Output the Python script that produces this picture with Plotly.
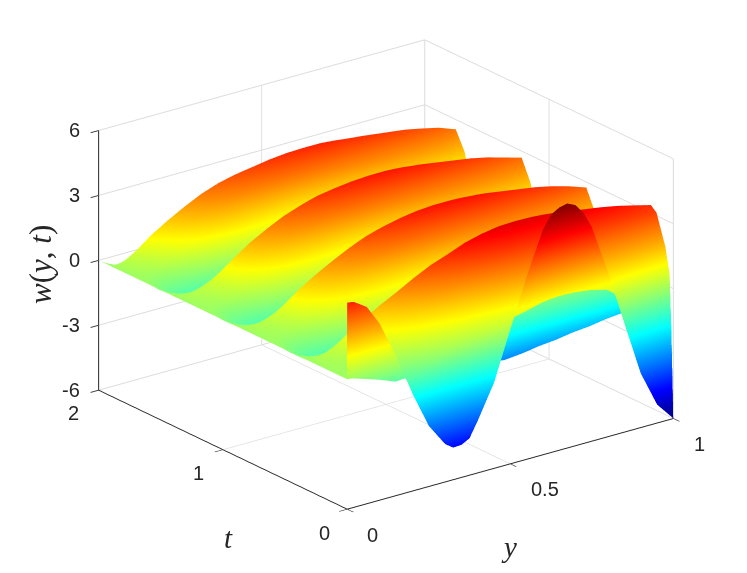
import numpy as np
import plotly.graph_objects as go

y_values = [0, .02, .06, .1, .15, .2, .25, .3, .325, .35, .375, .4, .45, .5, .55, .6, .625, .65, .675, .7, .725, .75, .8, .85, .9, .95, 1]
t_at_y0 = [0, .003, .03, .08, .18, .28, .34, .40, .46, .52, .595, .665, .735, .805, .925, 1.045, 1.12, 1.19, 1.26, 1.33, 1.45, 1.57, 1.645, 1.715, 1.785, 1.855, 1.93, 2]
t_at_y1 = [0, .016, .03, .064, .135, .18, .24, .30, .35, .40, .49, .56, .63, .70, .82, .925, 1.01, 1.08, 1.15, 1.22, 1.34, 1.45, 1.54, 1.61, 1.68, 1.75, 1.87, 2]

w_rows = [
 [3.55,3.5,3.1,2.15,.45,-1.5,-3.2,-4.25,-4.52,-4.5,-4.3,-3.6,-2.05,.2,2.45,4.4,5.0,5.22,5.3,5.12,4.65,3.9,1.6,-1.0,-3.5,-5.15,-6],
 [0,-.05,-.25,-.45,-.75,-.7,-.3,0,.1,.2,.28,.35,.5,.65,.8,1.0,1.05,1.08,1.07,1.05,1.0,.95,.75,.2,-.5,-1.2,-1.9],
 [0,-.05,-.2,-.35,-.45,-.2,.1,.3,.38,.45,.5,.55,.65,.8,1.0,1.2,1.25,1.3,1.3,1.3,1.28,1.25,1.15,1.0,.85,.7,.6],
 [0,-.02,-.1,-.1,.1,.4,.65,.85,.95,1.05,1.15,1.25,1.45,1.7,1.9,2.05,2.1,2.15,2.15,2.15,2.12,2.1,2.05,2.0,1.95,1.85,1.76],
 [0,.05,.15,.35,.8,1.2,1.6,1.9,2.1,2.3,2.45,2.6,2.9,3.15,3.35,3.4,3.43,3.45,3.45,3.45,3.42,3.4,3.35,3.3,3.25,3.2,3.14],
 [0,.15,.38,.75,1.4,1.88,2.3,2.75,2.95,3.15,3.3,3.45,3.78,4.0,4.15,4.2,4.2,4.2,4.18,4.15,4.1,4.05,3.95,3.85,3.72,3.55,3.37],
 [0,.02,.05,.4,.98,1.33,1.64,1.95,2.08,2.22,2.32,2.42,2.62,2.71,2.76,2.77,2.76,2.75,2.74,2.73,2.7,2.68,2.62,2.57,2.49,2.38,2.26],
 [0,-.1,-.3,-.15,.2,.32,.42,.52,.56,.6,.62,.65,.7,.7,.68,.62,.6,.58,.59,.6,.61,.62,.62,.65,.63,.62,.58],
 [0,-.2,-.6,-.65,-.65,-.75,-.87,-.99,-1.06,-1.13,-1.18,-1.24,-1.35,-1.44,-1.55,-1.66,-1.7,-1.75,-1.71,-1.67,-1.62,-1.57,-1.5,-1.4,-1.34,-1.25,-1.2],
 [0,-.25,-.7,-1.0,-1.25,-1.45,-1.65,-1.85,-1.98,-2.1,-2.2,-2.3,-2.5,-2.65,-2.8,-2.95,-3.0,-3.05,-3.0,-2.95,-2.88,-2.8,-2.7,-2.55,-2.45,-2.3,-2.2],
 [0,-.1,-.35,-.4,-.2,.05,.15,.15,.08,0,-.1,-.2,-.55,-.95,-1.25,-1.45,-1.5,-1.55,-1.52,-1.5,-1.48,-1.45,-1.4,-1.3,-1.25,-1.2,-1.15],
 [0,.01,.06,.25,.55,.95,1.2,1.3,1.28,1.25,1.18,1.1,.9,.65,.45,.35,.32,.3,.3,.3,.3,.3,.3,.3,.3,.25,.15],
 [0,.05,.2,.5,1.05,1.5,1.85,2.15,2.28,2.4,2.48,2.55,2.65,2.65,2.6,2.55,2.52,2.5,2.48,2.45,2.42,2.4,2.3,2.25,2.15,2.0,1.8],
 [0,.15,.33,.68,1.32,1.82,2.27,2.68,2.86,3.03,3.16,3.28,3.48,3.62,3.7,3.72,3.72,3.7,3.68,3.65,3.6,3.55,3.45,3.35,3.2,3.0,2.75],
 [0,-.1,-.3,-.15,.15,.25,.35,.45,.48,.5,.52,.55,.6,.6,.6,.55,.52,.5,.5,.5,.5,.5,.5,.5,.5,.5,.45],
 [0,-.25,-.68,-.98,-1.22,-1.42,-1.6,-1.8,-1.92,-2.05,-2.15,-2.25,-2.42,-2.58,-2.72,-2.85,-2.9,-2.95,-2.9,-2.85,-2.78,-2.72,-2.62,-2.48,-2.38,-2.25,-2.15],
 [0,-.1,-.35,-.38,-.18,.08,.18,.18,.1,.02,-.08,-.18,-.5,-.9,-1.2,-1.4,-1.45,-1.5,-1.48,-1.45,-1.42,-1.4,-1.35,-1.25,-1.2,-1.15,-1.1],
 [0,.02,.08,.28,.58,.97,1.22,1.32,1.28,1.25,1.18,1.1,.9,.65,.45,.35,.32,.3,.29,.28,.28,.28,.28,.28,.28,.22,.12],
 [0,.05,.22,.52,1.08,1.55,1.9,2.18,2.28,2.38,2.45,2.52,2.6,2.6,2.55,2.5,2.48,2.45,2.42,2.4,2.36,2.32,2.25,2.2,2.1,1.95,1.75],
 [0,.15,.33,.7,1.33,1.88,2.33,2.73,2.88,3.03,3.16,3.28,3.43,3.55,3.62,3.65,3.64,3.62,3.58,3.55,3.5,3.45,3.35,3.25,3.1,2.9,2.7],
 [0,-.1,-.28,-.12,.16,.26,.36,.44,.47,.5,.52,.54,.58,.6,.58,.54,.52,.5,.5,.5,.49,.48,.48,.48,.46,.44,.42],
 [0,-.25,-.66,-.95,-1.18,-1.38,-1.55,-1.75,-1.87,-1.98,-2.08,-2.18,-2.35,-2.5,-2.65,-2.78,-2.83,-2.88,-2.83,-2.78,-2.72,-2.65,-2.55,-2.42,-2.32,-2.2,-2.1],
 [0,-.1,-.32,-.3,-.1,.15,.28,.28,.2,.1,0,-.1,-.45,-.85,-1.15,-1.35,-1.4,-1.45,-1.43,-1.42,-1.4,-1.38,-1.3,-1.22,-1.18,-1.1,-1.05],
 [0,.03,.15,.4,.8,1.15,1.38,1.45,1.4,1.35,1.27,1.18,.95,.7,.5,.38,.35,.32,.31,.3,.3,.3,.3,.28,.26,.2,.1],
 [0,.1,.35,.75,1.3,1.75,2.05,2.3,2.38,2.45,2.5,2.55,2.62,2.6,2.55,2.5,2.46,2.42,2.4,2.38,2.34,2.3,2.22,2.15,2.05,1.92,1.72],
 [0,.25,.65,1.15,1.65,2.1,2.5,2.8,2.9,3.0,3.08,3.15,3.3,3.4,3.45,3.47,3.45,3.42,3.38,3.35,3.32,3.28,3.2,3.12,2.98,2.82,2.55],
 [0,-.12,-.3,-.1,.15,.3,.38,.45,.48,.5,.51,.52,.55,.56,.55,.5,.49,.48,.47,.46,.45,.45,.45,.44,.42,.4,.35],
 [0,-.2,-.5,-.4,-.2,0,.05,.1,.1,.1,.1,.1,.1,.1,.1,.1,.08,.05,.05,.05,.05,.05,.05,.05,.05,0,0],
]

y_ticks = [0, 0.5, 1]
t_ticks = [0, 1, 2]
w_ticks = [-6, -3, 0, 3, 6]

Y = np.array(y_values)
T = np.array([[a + (b - a) * v for v in Y] for a, b in zip(t_at_y0, t_at_y1)])
X = np.tile(Y, (len(t_at_y0), 1))
Z = np.array(w_rows)

jet = [[0, "rgb(0,0,128)"], [.125, "rgb(0,0,255)"], [.375, "rgb(0,255,255)"],
       [.625, "rgb(255,255,0)"], [.875, "rgb(255,0,0)"], [1, "rgb(128,0,0)"]]

fig = go.Figure(go.Surface(x=X, y=T, z=Z, colorscale=jet, cmin=-6, cmax=5.3, showscale=False,
                           lighting=dict(ambient=1, diffuse=0, specular=0, fresnel=0, roughness=1),
                           hoverinfo="skip"))

def axis(vals, rng):
    return dict(range=rng, tickvals=vals, showticklabels=False, title=dict(text=""),
                showbackground=False, showgrid=True, gridcolor="#dcdcdc", gridwidth=2,
                showline=True, linecolor="#262626", linewidth=2, zeroline=False,
                ticks="outside", ticklen=10, tickcolor="#404040", tickwidth=2, showspikes=False)

# reference's box on the page, in pixels: used only to place the labels
def px(y, t, w):
    return 348 + 327 * y - 125.5 * t, 510 - 91 * y - 60 * t - 21.67 * (w + 6)

notes = []
def label(text, x, y, size=20, family="Liberation Sans, Arial, sans-serif", angle=0, anchor="center"):
    notes.append(dict(text=text, x=x / 747, y=1 - y / 573, xref="paper", yref="paper", showarrow=False,
                      textangle=angle, xanchor=anchor, yanchor="middle",
                      font=dict(family=family, size=size, color="#262626")))

for w in w_ticks:
    x0, y0 = px(0, 2, w)
    label(str(w), x0 - 15, y0, anchor="right")
for v in y_ticks:
    x0, y0 = px(v, 0, -6)
    label(f"{v:g}", x0 + 17, y0 + 25, anchor="left")
for v in t_ticks:
    x0, y0 = px(0, v, -6)
    label(f"{v:g}", x0 - 24, y0 + 23)
serif = "Liberation Serif, serif"
label("<i>w</i>(<i>y</i>, <i>t</i>)", 40, 265, 31, serif, -90)
label("<i>t</i>", 228, 538, 29, serif)
label("<i>y</i>", 509, 547, 29, serif)

fig.update_layout(
    width=747, height=573, margin=dict(l=0, r=0, t=0, b=0), paper_bgcolor="white", showlegend=False,
    scene=dict(
        domain=dict(x=[.034, 1], y=[.042, 1]),
        xaxis=axis(y_ticks, [0, 1]), yaxis=axis(t_ticks, [0, 2]), zaxis=axis(w_ticks, [-6, 6]),
        aspectmode="manual", aspectratio=dict(x=1.494, y=1.494, z=1.016),
        camera=dict(projection=dict(type="orthographic"),
                    eye=dict(x=-.564 * 3, y=-.74 * 3, z=.3646 * 3),
                    center=dict(x=0, y=0, z=0), up=dict(x=0, y=0, z=1)),
    ),
    annotations=notes,
)
fig.write_html("out.html", post_script="document.body.style.margin='0';", config={"displayModeBar": False})
